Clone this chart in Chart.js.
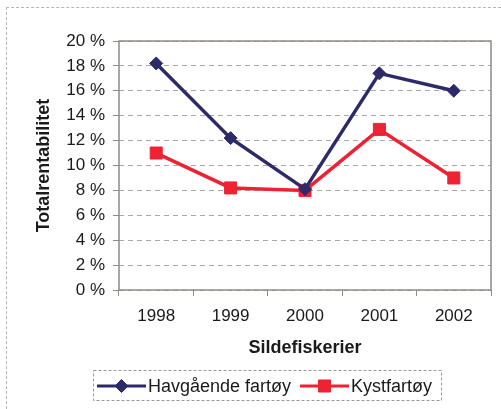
<!DOCTYPE html>
<html>
<head>
<meta charset="utf-8">
<script src="https://cdn.jsdelivr.net/npm/chart.js@4"></script>
<style>
  html, body { margin: 0; padding: 0; background: #fff; }
  #wrap { position: relative; width: 501px; height: 409px; }
  #frame { position: absolute; left: 6px; top: 7px; right: -10px; bottom: -10px;
           border-top: 1px dashed #b5b5b5; border-left: 1px dashed #b5b5b5; }
  canvas { position: absolute; left: 0; top: 0; }
</style>
</head>
<body>
<div id="wrap">
  <div id="frame"></div>
  <canvas id="chartCanvas" width="501" height="409"></canvas>
</div>
<script>
const years = ['1998', '1999', '2000', '2001', '2002'];
const havgaende = [18.2, 12.2, 8.1, 17.4, 16.0];
const kystfartoy = [11.0, 8.2, 8.0, 12.9, 9.0];
const yTicks = [0, 2, 4, 6, 8, 10, 12, 14, 16, 18, 20];

const navy = '#2c2a68';
const red = '#ee2233';
const font = 'Arial, "Liberation Sans", sans-serif';

// plot frame and the dashed legend box
const extras = {
  id: 'extras',
  afterDraw(chart) {
    const ctx = chart.ctx;
    const a = chart.chartArea;
    ctx.save();
    ctx.strokeStyle = '#8f8a86';
    ctx.lineWidth = 1.5;
    ctx.strokeRect(a.left, a.top, a.right - a.left, a.bottom - a.top);

    ctx.setLineDash([3, 2]);
    ctx.strokeStyle = '#9a9a9a';
    ctx.lineWidth = 1;
    ctx.strokeRect(93.5, 370.5, 348, 30);
    ctx.setLineDash([]);

    const xs = [97, 300];
    const y = 386;
    chart.data.datasets.forEach((ds, i) => {
      const x0 = xs[i];
      ctx.strokeStyle = ds.borderColor;
      ctx.lineWidth = 3;
      ctx.beginPath();
      ctx.moveTo(x0, y);
      ctx.lineTo(x0 + 49, y);
      ctx.stroke();
      ctx.fillStyle = ds.borderColor;
      ctx.lineWidth = 1;
      Chart.helpers.drawPoint(ctx, {
        pointStyle: ds.pointStyle, radius: ds.pointRadius, borderWidth: 1, rotation: 0
      }, x0 + 24.5, y);
      ctx.fillStyle = '#1a1a1a';
      ctx.font = '18px ' + font;
      ctx.textBaseline = 'middle';
      ctx.textAlign = 'left';
      ctx.fillText(ds.label, x0 + 51, y + 1);
    });
    ctx.restore();
  }
};

const ctx = document.getElementById('chartCanvas').getContext('2d');
new Chart(ctx, {
  type: 'line',
  data: {
    labels: years,
    datasets: [
      {
        label: 'Havgående fartøy',
        data: havgaende,
        borderColor: navy,
        backgroundColor: navy,
        borderWidth: 3.5,
        pointStyle: 'rectRot',
        pointRadius: 6.5,
        pointBorderWidth: 1,
        tension: 0
      },
      {
        label: 'Kystfartøy',
        data: kystfartoy,
        borderColor: red,
        backgroundColor: red,
        borderWidth: 3.5,
        pointStyle: 'rect',
        pointRadius: 8.5,
        pointBorderWidth: 1,
        tension: 0
      }
    ]
  },
  options: {
    responsive: false,
    animation: false,
    layout: { padding: { left: 0, right: 10, top: 41, bottom: 49 } },
    plugins: {
      legend: { display: false },
      tooltip: { enabled: false }
    },
    scales: {
      x: {
        offset: true,
        afterFit: s => { s.height = 70; },
        grid: {
          offset: true,
          drawOnChartArea: false,
          drawTicks: true,
          tickLength: 6,
          tickColor: '#8f8a86',
          color: '#8f8a86'
        },
        border: { display: false },
        ticks: {
          color: '#1a1a1a',
          padding: 10,
          maxRotation: 0,
          font: { family: font, size: 17 }
        },
        title: {
          display: true,
          text: 'Sildefiskerier',
          color: '#1a1a1a',
          padding: { top: 0, bottom: 1 },
          font: { family: font, size: 18, weight: 'bold' }
        }
      },
      y: {
        min: 0,
        max: 20,
        afterFit: s => { s.width = 119; },
        afterBuildTicks: s => { s.ticks = yTicks.map(v => ({ value: v })); },
        grid: {
          color: '#a9a9a9',
          tickColor: '#8f8a86',
          tickLength: 6,
          tickBorderDash: []
        },
        border: { display: false, dash: [5, 4] },
        ticks: {
          color: '#1a1a1a',
          padding: 8,
          font: { family: font, size: 17 },
          callback: v => v + ' %'
        },
        title: {
          display: true,
          text: 'Totalrentabilitet',
          color: '#1a1a1a',
          padding: { top: 33, bottom: 0 },
          font: { family: font, size: 18, weight: 'bold' }
        }
      }
    }
  },
  plugins: [extras]
});
</script>
</body>
</html>
